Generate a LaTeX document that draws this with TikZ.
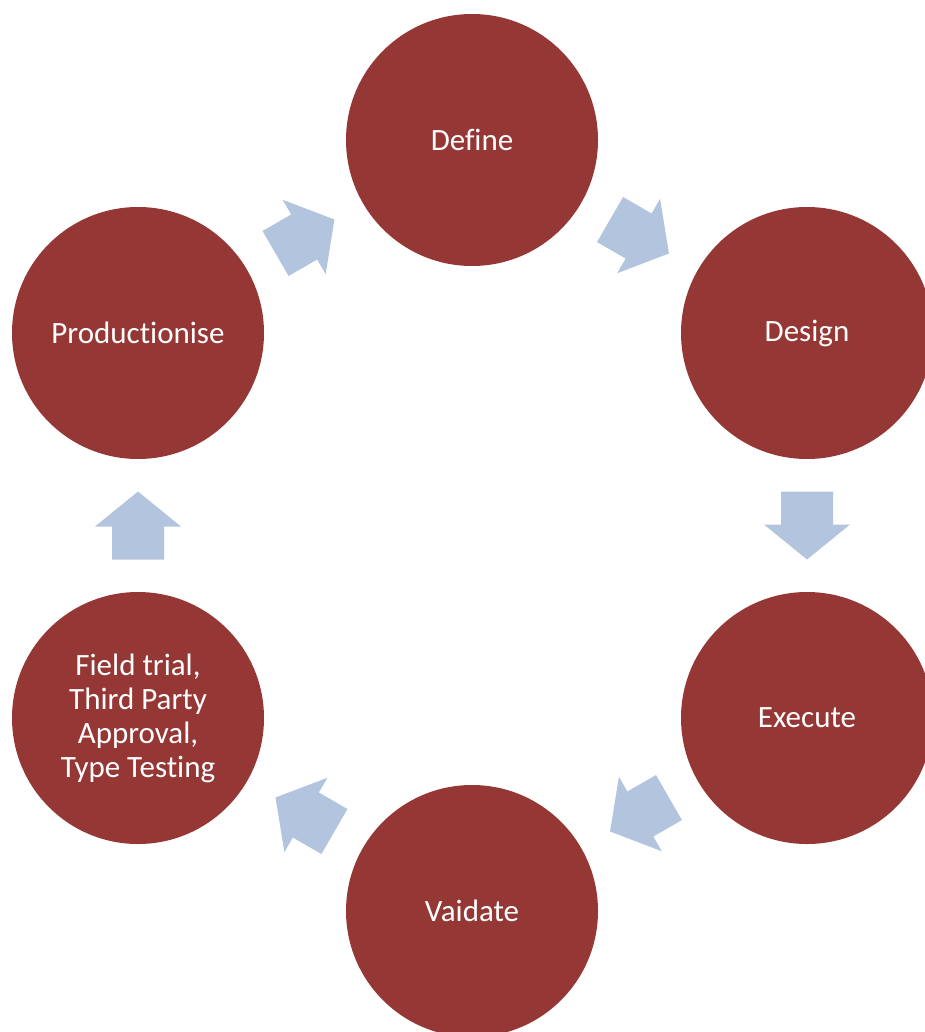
\documentclass[tikz,border=0pt]{standalone}
\usepackage{fontspec}
\setmainfont{Carlito}[Ligatures=CommonOff]
\usetikzlibrary{calc}
\definecolor{circ}{RGB}{149,55,53}
\definecolor{arr}{RGB}{179,196,222}
\tikzset{
  stage/.style={circle, fill=circ, minimum size=252pt, inner sep=0pt, text=white,
    font=\fontsize{31}{34}\selectfont, align=center},
  flowarrow/.pic={\fill[arr] (-34,-26) -- (-1,-26) -- (-1,-43) -- (34,0) -- (-1,43) -- (-1,26) -- (-34,26) -- cycle;},
  link/.style={pos=0.5, sloped, allow upside down}
}
\begin{document}
\begin{tikzpicture}[x=1pt,y=-1pt]
\useasboundingbox (0,0) rectangle (925,1032);
\clip (0,0) rectangle (925,1032);
\node[stage] (define) at (472,140) {Define};
\node[stage] (design) at (807,333) {Design};
\node[stage] (execute) at (807,718) {Execute};
\node[stage] (validate) at (472,911) {Vaidate};
\node[stage] (field) at (138,718) {Field trial,\\Third Party\\Approval,\\Type Testing};
\node[stage] (prod) at (138,333) {Productionise};
\path (prod) -- (define) pic[link]{flowarrow};
\path (define) -- (design) pic[link]{flowarrow};
\path (design) -- (execute) pic[link]{flowarrow};
\path (execute) -- (validate) pic[link]{flowarrow};
\path (validate) -- (field) pic[link]{flowarrow};
\path (field) -- (prod) pic[link]{flowarrow};
\end{tikzpicture}
\end{document}
